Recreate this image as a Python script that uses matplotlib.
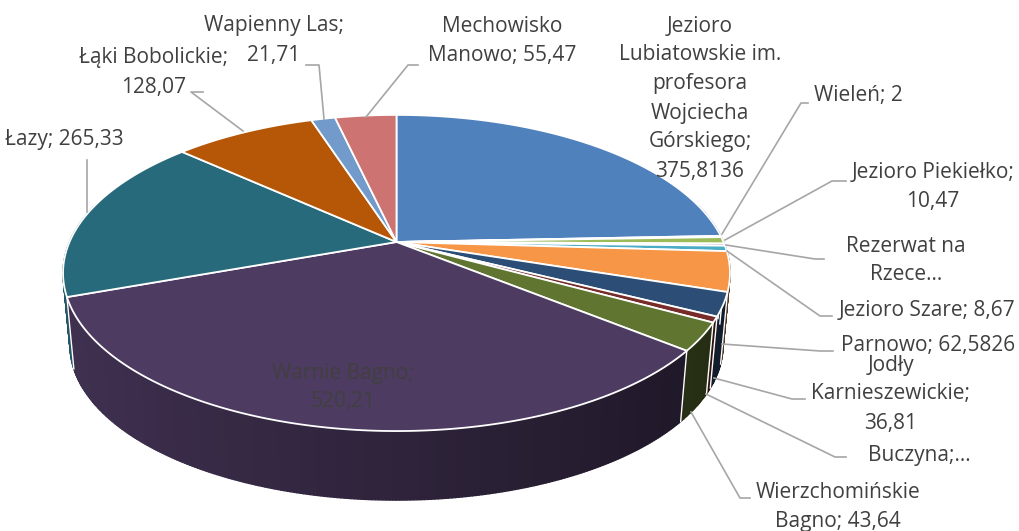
import numpy as np
import matplotlib
matplotlib.use("Agg")
import matplotlib.pyplot as plt
from matplotlib.patches import Polygon

names = ["Jezioro Lubiatowskie", "Wieleń", "Jezioro Piekiełko", "Rezerwat na Rzece", "Jezioro Szare",
         "Parnowo", "Jodły Karnieszewickie", "Buczyna", "Wierzchomińskie Bagno", "Warnie Bagno",
         "Łazy", "Łąki Bobolickie", "Wapienny Las", "Mechowisko Manowo"]
values = [375.8136, 2, 10.47, 3.5, 8.67, 62.5826, 36.81, 9, 43.64, 520.21, 265.33, 128.07, 21.71, 55.47]
colors = ["#4F81BD", "#C0504D", "#9BBB59", "#8064A2", "#4BACC6", "#F79646", "#2C4D75", "#772C2A",
          "#5F7530", "#4D3B62", "#276A7C", "#B65708", "#729ACA", "#CD7371"]
labels = [
    (700, ["Jezioro", "Lubiatowskie im.", "profesora", "Wojciecha", "Górskiego;", "375,8136"], 26),
    (858, ["Wieleń; 2"], 96),
    (933, ["Jezioro Piekiełko;", "10,47"], 173),
    (906, ["Rezerwat na", "Rzece…"], 246),
    (927, ["Jezioro Szare; 8,67"], 311),
    (928, ["Parnowo; 62,5826"], 346),
    (891, ["Jodły", "Karnieszewickie;", "36,81"], 365),
    (919, ["Buczyna;…"], 455),
    (838, ["Wierzchomińskie", "Bagno; 43,64"], 492),
    (343, ["Warnie Bagno;", "520,21"], 373),
    (64, ["Łazy; 265,33"], 140),
    (154, ["Łąki Bobolickie;", "128,07"], 58),
    (274, ["Wapienny Las;", "21,71"], 26),
    (502, ["Mechowisko", "Manowo; 55,47"], 26),
]
leaders = [
    [(722, 234), (801, 103), (808, 103)],
    [(725, 240), (832, 181), (846, 181)],
    [(726, 245), (815, 259), (824, 259)],
    [(727, 251), (820, 316), (832, 316)],
    [(722, 344), (820, 351), (833, 351)],
    [(714, 378), (792, 399), (805, 399)],
    [(706, 394), (835, 457), (846, 457)],
    [(691, 412), (740, 498), (750, 498)],
    [(87, 212), (87, 160)],
    [(243, 131), (191, 92), (203, 92)],
    [(324, 119), (319, 65), (306, 65)],
    [(366, 117), (408, 65), (418, 65)],
]

CX, CY = 396.5, 242.0
A, B, PERSP = 327.0, 152.0, 0.196
DY, SCALE = 73.0, 0.979


def top(theta):
    u, v = np.sin(theta), np.cos(theta)
    w = 1 + PERSP * v
    return CX + A * u / w, CY - B * v / w


def low(theta):
    x, y = top(theta)
    return CX + (x - CX) * SCALE, CY + DY + (y - CY) * SCALE


def shade(col, f):
    return tuple(c * f for c in matplotlib.colors.to_rgb(col))


fig = plt.figure(figsize=(10.2, 5.31), dpi=100)
ax = fig.add_axes([0, 0, 1, 1])
ax.set_xlim(0, 1020)
ax.set_ylim(531, 0)
ax.axis("off")

edges = np.cumsum([0] + values) / sum(values) * 2 * np.pi

# side wall, back to front
quads = []
for i, col in enumerate(colors):
    n = max(2, int(np.degrees(edges[i + 1] - edges[i]) / 0.5))
    t = np.linspace(edges[i], edges[i + 1], n + 1)
    for a, b in zip(t[:-1], t[1:]):
        m = (a + b) / 2
        if np.cos(m) < 0.25:
            quads.append((np.cos(m), a, b, col))
for _, a, b, col in sorted(quads, key=lambda q: -q[0]):
    m = (a + b) / 2
    f = 0.60 - 0.24 * np.sin(m)
    c = shade(col, f)
    pts = [top(a), top(b), low(b), low(a)]
    ax.add_patch(Polygon(pts, closed=True, fc=c, ec=c, lw=1.0, antialiased=True, zorder=2))

# white joins between wall segments on the front
for e in edges:
    if np.cos(e) < 0:
        x0, y0 = top(e)
        x1, y1 = low(e)
        ax.plot([x0, x1], [y0, y1], color="white", lw=1.0, zorder=3)

# top faces
for i, col in enumerate(colors):
    t = np.linspace(edges[i], edges[i + 1], max(3, int(np.degrees(edges[i + 1] - edges[i]) * 2)))
    px, py = top(t)
    pts = [(CX, CY)] + list(zip(px, py))
    ax.add_patch(Polygon(pts, closed=True, fc=col, ec="white", lw=1.3, joinstyle="round", zorder=4))

# leader lines
for pts in leaders:
    xs, ys = zip(*pts)
    ax.plot(xs, ys, color="#A6A6A6", lw=1.2, zorder=5)

# data labels
FONT = "Open Sans"
for x, lines, y in labels:
    for k, s in enumerate(lines):
        ax.text(x, y + 29 * k, s, ha="center", va="center", family=FONT, fontsize=15.0,
                color="#404040", zorder=6)

fig.savefig("out.png", dpi=100)
